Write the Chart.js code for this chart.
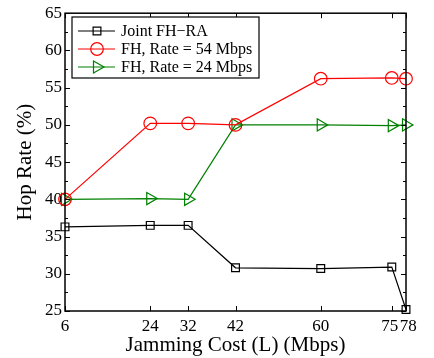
<!DOCTYPE html>
<html>
<head>
<meta charset="utf-8">
<script src="https://cdn.jsdelivr.net/npm/chart.js@4/dist/chart.umd.min.js"></script>
<style>
  html, body { margin: 0; padding: 0; background: #fff; }
  #wrap { width: 434px; height: 358px; }
</style>
</head>
<body>
<div id="wrap"><canvas id="hopChart"></canvas></div>
<script>
// data
const jamCost = [6, 24, 32, 42, 60, 75, 78];
const jointFHRA = [36.3, 36.5, 36.5, 30.8, 30.7, 30.9, 25.2];
const fh54 = [40.0, 50.2, 50.2, 50.0, 56.2, 56.3, 56.2];
const fh24 = [40.0, 40.1, 40.0, 50.0, 50.0, 49.9, 50.0];
const yTicks = [25, 30, 35, 40, 45, 50, 55, 60, 65];

const seriesNames = ['Joint FH\u2212RA', 'FH, Rate = 54 Mbps', 'FH, Rate = 24 Mbps'];
const seriesColors = ['#000000', '#ff0000', '#008000'];
const seriesMarkers = ['rect', 'circle', 'triangle'];
const seriesRot = [0, 0, 90];
const seriesRadius = [5.5, 6.3, 7];

function toPoints(vals) {
  return vals.map((v, i) => ({ x: jamCost[i], y: v }));
}

const allData = [jointFHRA, fh54, fh24];
const datasets = allData.map((vals, i) => ({
  label: seriesNames[i],
  data: toPoints(vals),
  borderColor: seriesColors[i],
  backgroundColor: 'rgba(0,0,0,0)',
  borderWidth: 1.2,
  pointStyle: seriesMarkers[i],
  pointRotation: seriesRot[i],
  pointRadius: seriesRadius[i],
  pointBorderWidth: 1.2,
  pointBorderColor: seriesColors[i],
  pointBackgroundColor: 'rgba(0,0,0,0)',
  clip: false,
  tension: 0
}));

// inward ticks on all four sides plus the box
const frameTicks = {
  id: 'frameTicks',
  afterDatasetsDraw(chart) {
    const { ctx, chartArea: a, scales } = chart;
    ctx.save();
    ctx.strokeStyle = '#000';
    ctx.lineWidth = 1;
    ctx.beginPath();
    jamCost.forEach(v => {
      const x = Math.round(scales.x.getPixelForValue(v)) + 0.5;
      ctx.moveTo(x, a.bottom); ctx.lineTo(x, a.bottom - 5);
      ctx.moveTo(x, a.top); ctx.lineTo(x, a.top + 5);
    });
    for (let v = 25; v <= 65; v += 2.5) {
      const y = Math.round(scales.y.getPixelForValue(v)) + 0.5;
      const len = (v % 5 === 0) ? 5 : 3;
      ctx.moveTo(a.left, y); ctx.lineTo(a.left + len, y);
      ctx.moveTo(a.right, y); ctx.lineTo(a.right - len, y);
    }
    ctx.stroke();
    ctx.lineWidth = 1.5;
    ctx.strokeRect(a.left, a.top, a.right - a.left, a.bottom - a.top);
    ctx.restore();
  },
  afterDraw(chart) {
    // legend box in upper left corner
    const ctx = chart.ctx;
    const bx = 72, by = 17, bw = 187, bh = 61;
    ctx.save();
    ctx.fillStyle = '#fff';
    ctx.fillRect(bx, by, bw, bh);
    ctx.strokeStyle = '#000';
    ctx.lineWidth = 1.2;
    ctx.strokeRect(bx, by, bw, bh);
    const rows = [31, 49, 67];
    ctx.font = '16px "Liberation Serif", "Times New Roman", serif';
    ctx.textBaseline = 'middle';
    rows.forEach((y, i) => {
      ctx.strokeStyle = seriesColors[i];
      ctx.lineWidth = 1.2;
      ctx.beginPath();
      ctx.moveTo(78, y); ctx.lineTo(115, y);
      ctx.stroke();
      ctx.fillStyle = 'rgba(0,0,0,0)';
      Chart.helpers.drawPoint(ctx, {
        pointStyle: seriesMarkers[i],
        rotation: seriesRot[i],
        radius: seriesRadius[i],
        borderWidth: 1.2
      }, 97, y);
      ctx.fillStyle = '#000';
      ctx.fillText(seriesNames[i], 121, y + 1);
    });
    ctx.restore();
  }
};

const serif = '"Liberation Serif", "Times New Roman", serif';

new Chart(document.getElementById('hopChart'), {
  type: 'line',
  data: { datasets: datasets },
  options: {
    responsive: true,
    maintainAspectRatio: false,
    animation: false,
    layout: { padding: { top: 10, right: 28, left: 13, bottom: 0 } },
    plugins: {
      legend: { display: false },
      tooltip: { enabled: false }
    },
    scales: {
      x: {
        type: 'linear',
        min: 6,
        max: 78,
        afterBuildTicks: axis => { axis.ticks = jamCost.map(v => ({ value: v })); },
        grid: { display: false, drawTicks: false },
        border: { display: false },
        ticks: {
          color: '#000',
          padding: 5,
          maxRotation: 0,
          autoSkip: false,
          font: { family: serif, size: 17 },
          // 75 and 78 sit very close, nudge them apart a little
          callback: v => v === 75 ? '75 ' : (v === 78 ? ' 78' : String(v))
        },
        title: {
          display: true,
          text: 'Jamming Cost (L) (Mbps)',
          color: '#000',
          padding: { top: 0, bottom: 0 },
          font: { family: serif, size: 21 }
        },
        afterFit: s => { s.height = 47; }
      },
      y: {
        min: 25,
        max: 65,
        afterBuildTicks: axis => { axis.ticks = yTicks.map(v => ({ value: v })); },
        grid: { display: false, drawTicks: false },
        border: { display: false },
        ticks: {
          color: '#000',
          padding: 3,
          font: { family: serif, size: 17 }
        },
        title: {
          display: true,
          text: 'Hop Rate (%)',
          color: '#000',
          padding: { top: 0, bottom: 4 },
          font: { family: serif, size: 21 }
        },
        afterFit: s => { s.width = 52; }
      }
    }
  },
  plugins: [frameTicks]
});
</script>
</body>
</html>
